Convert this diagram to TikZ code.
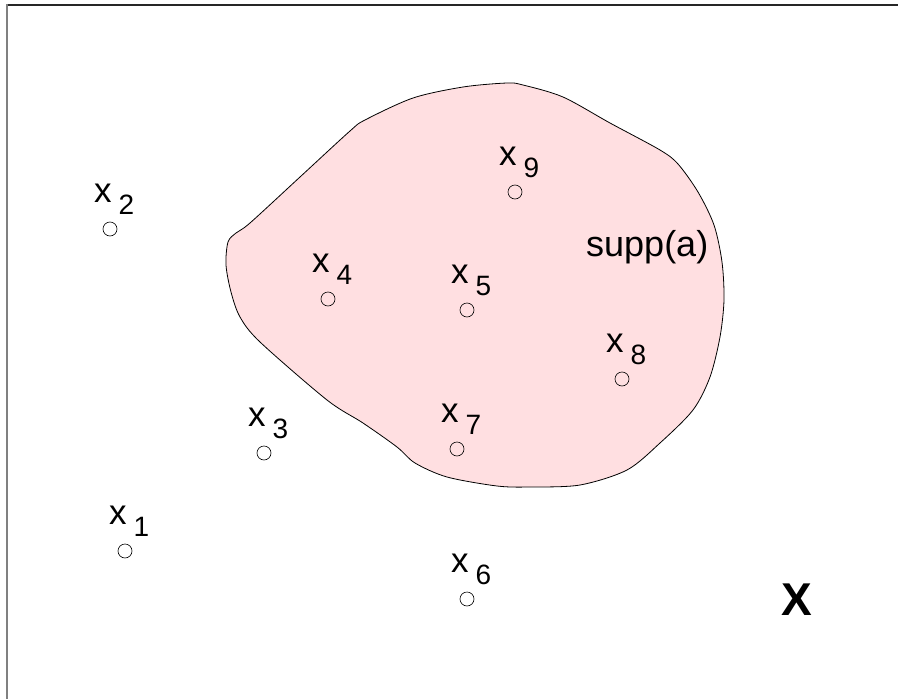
\documentclass[tikz,border=0pt]{standalone}
\usepackage{fontspec}
\setmainfont{Liberation Sans}
% index set label: x with a lowered index
\newcommand{\xsub}[1]{x\hspace{7pt}\raisebox{-12pt}{\fontsize{28}{32}\selectfont #1}}
\definecolor{suppfill}{RGB}{255,223,225}
\begin{document}
\begin{tikzpicture}[x=1pt,y=-1pt,
  sample/.style={draw, circle, inner sep=0pt, minimum size=14pt, line width=0.6pt},
  ptlabel/.style={anchor=base west, inner sep=0pt, font=\fontsize{35}{40}\selectfont}]
\useasboundingbox (0,0) rectangle (898,699);

% frame of the space X
\draw[line width=1.4pt, black!85] (7,5) -- (898,5);
\draw[line width=2pt, black!50] (7,4.3) -- (7,699);

% support region
\draw[fill=suppfill, line width=0.8pt] plot[smooth cycle, tension=0.5] coordinates {
  (236,233) (228,242) (226,265) (231,292) (240,317) (260,342)
  (327,400) (363,423) (397,447) (415,463) (447,477) (497,486) (530,487)
  (580,485) (627,470) (660,443) (693,410) (710,377) (720,337) (724,300)
  (722,262) (714,225) (698,192) (678,164) (660,150) (610,123) (563,97)
  (523,85) (507,83) (463,87) (413,98) (365,120) (350,131)
  (300,177) (250,223)};

% sample points with their labels
\foreach \n/\px/\py in {1/125/551, 2/110/229, 3/264/453, 4/328/299, 5/467/310,
                         6/467/599, 7/457/449, 8/622/379, 9/515/192} {
  \node[sample] (p\n) at (\px,\py) {};
  \node[ptlabel] (l\n) at (\px-16,\py-27) {\xsub{\n}};
}

\node[anchor=base west, inner sep=0pt, font=\fontsize{36}{40}\selectfont] (supp) at (586,256) {supp(a)};
\node[anchor=base west, inner sep=0pt, font=\fontsize{46}{50}\selectfont\bfseries] (space) at (781,615) {X};
\end{tikzpicture}
\end{document}
